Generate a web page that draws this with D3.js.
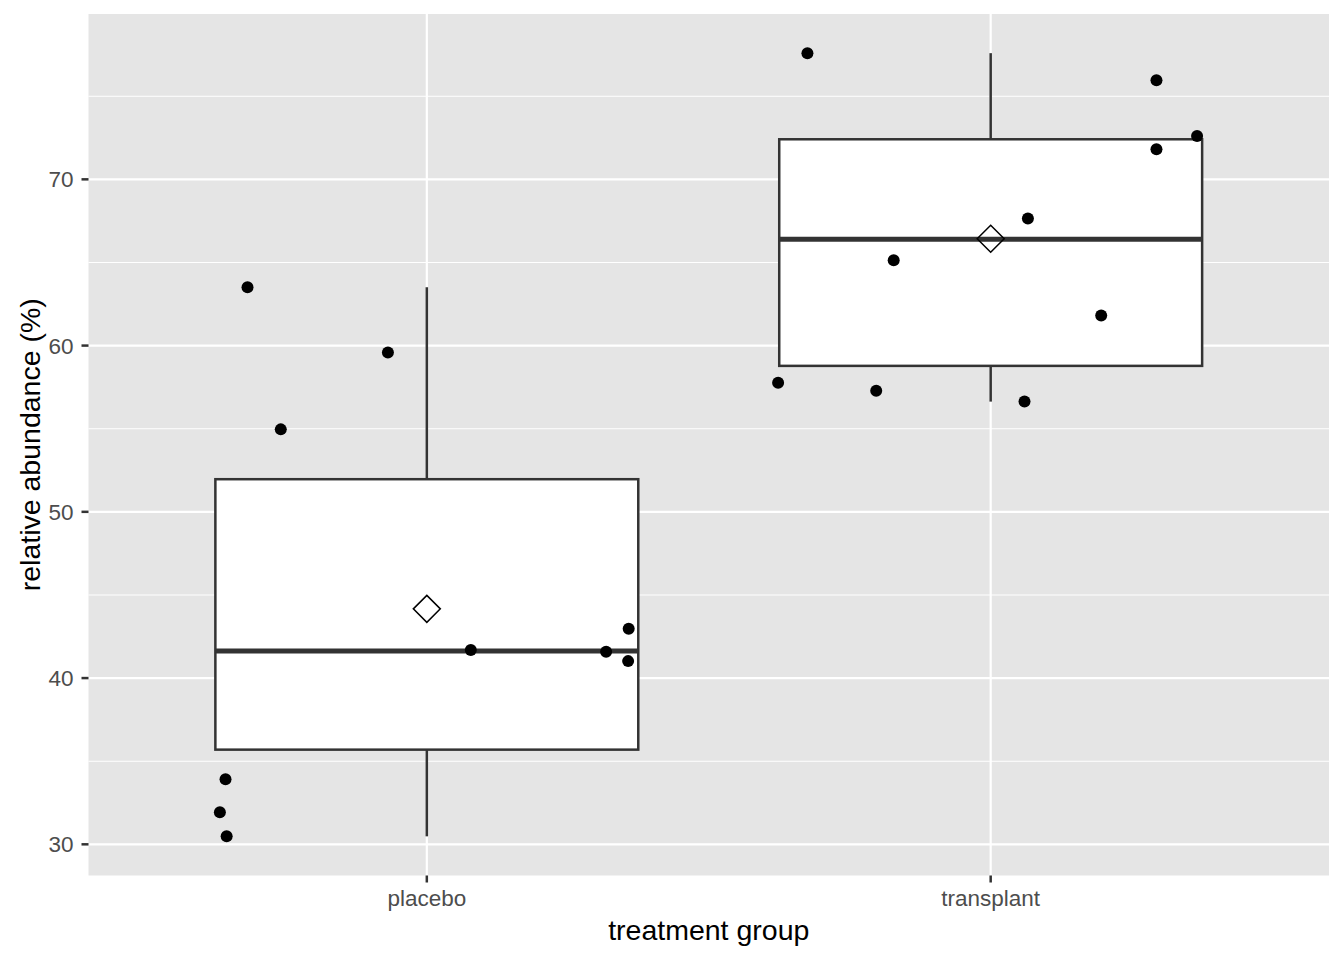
<!DOCTYPE html>
<html><head><meta charset="utf-8">
<script src="https://cdn.jsdelivr.net/npm/d3@7"></script>
<style>body{margin:0;background:#fff}svg{display:block}text{font-family:"Liberation Sans",Arial,sans-serif}</style>
</head><body>
<svg id="c" width="1344" height="960"></svg>
<script>
const categories = ["placebo", "transplant"];
const placeboValues = [63.51, 59.58, 54.96, 41.69, 41.58, 42.97, 41.02, 33.92, 31.93, 30.48];
const placeboJitter = [-0.318, -0.069, -0.259, 0.078, 0.318, 0.358, 0.357, -0.357, -0.367, -0.355];
const transplantValues = [77.59, 75.96, 72.61, 71.81, 67.65, 65.14, 61.81, 57.77, 57.29, 56.63];
const transplantJitter = [-0.325, 0.294, 0.366, 0.294, 0.066, -0.172, 0.196, -0.377, -0.203, 0.060];
const yTicks = [30, 40, 50, 60, 70];
const yMinor = [35, 45, 55, 65, 75];
const xTitle = "treatment group";
const yTitle = "relative abundance (%)";

const groups = [
  {name: categories[0], values: placeboValues, jitter: placeboJitter},
  {name: categories[1], values: transplantValues, jitter: transplantJitter}
];

const svg = d3.select("#c");
const L = 88.5, R = 1329, T = 14, B = 875.5;

const all = placeboValues.concat(transplantValues);
const ext = d3.extent(all);
const pad = (ext[1] - ext[0]) * 0.05;
const y = d3.scaleLinear().domain([ext[0] - pad, ext[1] + pad]).range([B, T]);
// discrete x: positions 1..n with 0.6 expansion
const x = d3.scaleLinear().domain([0.4, categories.length + 0.6]).range([L, R]);
const unit = x(2) - x(1);

svg.append("rect").attr("x", L).attr("y", T).attr("width", R - L).attr("height", B - T).attr("fill", "#e5e5e5");

const g = svg.append("g");
g.selectAll(".minor").data(yMinor).join("line")
  .attr("x1", L).attr("x2", R).attr("y1", d => y(d)).attr("y2", d => y(d))
  .attr("stroke", "#fff").attr("stroke-width", 1.1);
g.selectAll(".major").data(yTicks).join("line")
  .attr("x1", L).attr("x2", R).attr("y1", d => y(d)).attr("y2", d => y(d))
  .attr("stroke", "#fff").attr("stroke-width", 2.2);
g.selectAll(".vmajor").data(categories).join("line")
  .attr("x1", (d, i) => x(i + 1)).attr("x2", (d, i) => x(i + 1)).attr("y1", T).attr("y2", B)
  .attr("stroke", "#fff").attr("stroke-width", 2.2);

const LW = 2.5;
// boxplots
groups.forEach((grp, i) => {
  const s = grp.values.slice().sort(d3.ascending);
  const q1 = d3.quantile(s, 0.25), med = d3.quantile(s, 0.5), q3 = d3.quantile(s, 0.75);
  const iqr = q3 - q1;
  const lo = d3.min(s.filter(v => v >= q1 - 1.5 * iqr));
  const hi = d3.max(s.filter(v => v <= q3 + 1.5 * iqr));
  const cx = x(i + 1), hw = unit * 0.75 / 2;
  const bg = svg.append("g");
  bg.append("line").attr("x1", cx).attr("x2", cx).attr("y1", y(q3)).attr("y2", y(hi)).attr("stroke", "#333").attr("stroke-width", LW);
  bg.append("line").attr("x1", cx).attr("x2", cx).attr("y1", y(q1)).attr("y2", y(lo)).attr("stroke", "#333").attr("stroke-width", LW);
  bg.append("rect").attr("x", cx - hw).attr("y", y(q3)).attr("width", 2 * hw).attr("height", y(q1) - y(q3))
    .attr("fill", "#fff").attr("stroke", "#333").attr("stroke-width", LW);
  bg.append("line").attr("x1", cx - hw).attr("x2", cx + hw).attr("y1", y(med)).attr("y2", y(med)).attr("stroke", "#333").attr("stroke-width", 5);
  // points
  bg.selectAll("circle").data(grp.values.map((v, j) => ({v, j: grp.jitter[j]}))).join("circle")
    .attr("cx", d => x(i + 1 + d.j)).attr("cy", d => y(d.v)).attr("r", 6).attr("fill", "#000");
  // mean diamond
  const m = d3.mean(grp.values), r = 13.5;
  bg.append("path").attr("d", `M${cx},${y(m) - r}L${cx + r},${y(m)}L${cx},${y(m) + r}L${cx - r},${y(m)}Z`)
    .attr("fill", "none").attr("stroke", "#000").attr("stroke-width", 1.5);
});

// axes
const ax = svg.append("g");
ax.selectAll(".yt").data(yTicks).join("line")
  .attr("x1", L - 7).attr("x2", L).attr("y1", d => y(d)).attr("y2", d => y(d)).attr("stroke", "#333").attr("stroke-width", LW);
ax.selectAll(".yl").data(yTicks).join("text")
  .attr("x", L - 15).attr("y", d => y(d)).attr("dy", "0.36em").attr("text-anchor", "end")
  .attr("font-size", 22.5).attr("fill", "#4d4d4d").text(d => d);
ax.selectAll(".xt").data(categories).join("line")
  .attr("x1", (d, i) => x(i + 1)).attr("x2", (d, i) => x(i + 1)).attr("y1", B).attr("y2", B + 7).attr("stroke", "#333").attr("stroke-width", LW);
ax.selectAll(".xl").data(categories).join("text")
  .attr("x", (d, i) => x(i + 1)).attr("y", 906).attr("text-anchor", "middle")
  .attr("font-size", 22.5).attr("fill", "#4d4d4d").text(d => d);
svg.append("text").attr("x", (L + R) / 2).attr("y", 940).attr("text-anchor", "middle")
  .attr("font-size", 28.5).attr("fill", "#000").text(xTitle);
svg.append("text").attr("transform", `translate(40,${(T + B) / 2}) rotate(-90)`).attr("text-anchor", "middle")
  .attr("font-size", 28.5).attr("fill", "#000").text(yTitle);
</script>
</body></html>
